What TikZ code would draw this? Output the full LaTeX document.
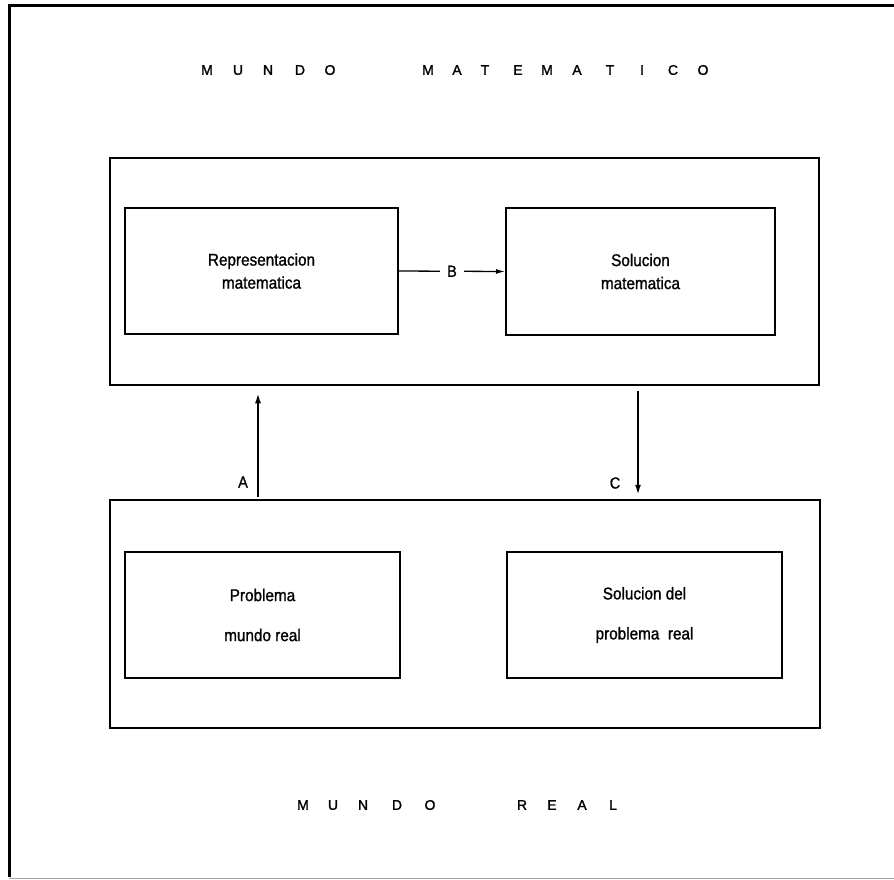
\documentclass[tikz,border=0pt]{standalone}
\usepackage{fontspec}
\setmainfont{Liberation Sans}[FakeBold=1.2]
\newfontfamily\condfont{Liberation Sans}[FakeStretch=0.9, FakeBold=1.2]
\newfontfamily\ttlfont{Liberation Sans}[FakeBold=1.5]
\usetikzlibrary{arrows.meta}
\tikzset{
  outerbox/.style={draw=black, line width=2.5pt, rectangle, inner sep=0pt},
  innerbox/.style={draw=black, line width=2pt, rectangle, inner sep=0pt, align=center, font=\condfont\fontsize{17}{23}\selectfont},
  arr/.style={line width=1.8pt, -{Latex[length=10pt,width=6pt]}},
  lbl/.style={font=\condfont\fontsize{16}{18}\selectfont, inner sep=1pt},
  ttl/.style={font=\ttlfont\fontsize{14}{16}\selectfont, inner sep=0pt}
}
\begin{document}
\begin{tikzpicture}[x=1pt,y=-1pt]
\useasboundingbox (0,0) rectangle (894,879);
% outer frame
\draw[line width=3pt] (894,5) -- (9,5) -- (9,877);
\draw[line width=1pt, black!35] (9,878) -- (894,878);
% title top
\foreach \l/\x [count=\i] in {M/207,U/238,N/268,D/300,O/330,M/428,A/457,T/485,E/518,M/547,A/577,T/610,I/642,C/673,O/703}
  \node[ttl] (t\i) at (\x,70) {\l};
% title bottom
\foreach \l/\x [count=\i] in {M/303,U/333,N/363,D/397,O/430,R/522,E/552,A/582,L/613}
  \node[ttl] (b\i) at (\x,805) {\l};
% outer boxes
\node[outerbox, minimum width=709pt, minimum height=227pt] (up) at (464.5,271.5) {};
\node[outerbox, minimum width=710pt, minimum height=228pt] (low) at (465,614) {};
% inner boxes
\node[innerbox, minimum width=273pt, minimum height=126pt] (rep) at (261.5,271) {Representacion\\matematica};
\node[innerbox, minimum width=269pt, minimum height=127pt] (solm) at (640.5,271.5) {Solucion\\matematica};
\node[innerbox, minimum width=275pt, minimum height=126pt, font=\condfont\fontsize{17}{40}\selectfont] (prob) at (262.5,615) {Problema\\mundo real};
\node[innerbox, minimum width=275pt, minimum height=126pt, font=\condfont\fontsize{17}{40}\selectfont] (sold) at (644.5,615) {Solucion del\\problema\ \ real};
% arrow B
\draw[line width=1.3pt, -{Latex[length=9pt,width=5pt]}] (rep.east) -- node[lbl, fill=white, inner xsep=7pt] (lb) {B} (solm.east -| solm.west);
% arrows A and C
\coordinate (ax) at (258,0);
\coordinate (cx) at (638,0);
\draw[arr, shorten >=7pt, shorten <=2pt] (low.north -| ax) -- (up.south -| ax);
\draw[arr, shorten >=4pt, shorten <=5pt] (up.south -| cx) -- (low.north -| cx);
\node[lbl] (la) at (243,482) {A};
\node[lbl] (lc) at (615,483) {C};
\end{tikzpicture}
\end{document}
